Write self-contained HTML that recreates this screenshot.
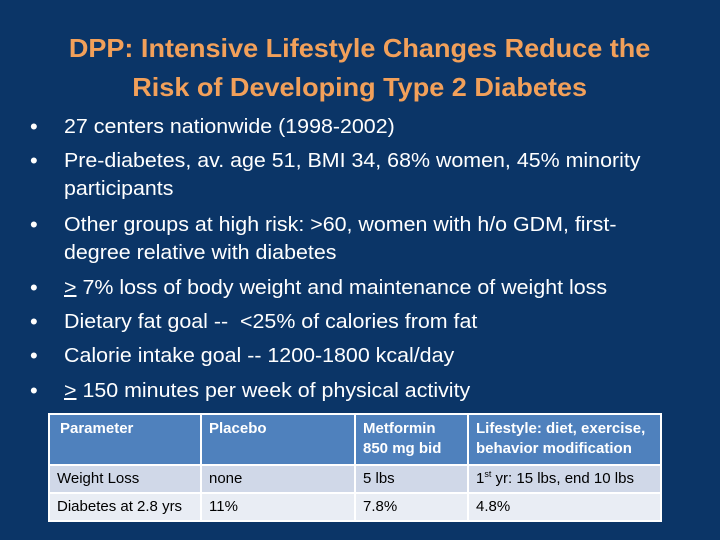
<!DOCTYPE html>
<html><head><meta charset="utf-8"><style>
body{margin:0;width:720px;height:540px;background:#0b3567;overflow:hidden;position:relative;font-family:"Liberation Sans",sans-serif}
.t{position:absolute;left:0;width:720px;text-align:center;color:#f2a05a;font-weight:bold;font-size:26px;line-height:32px}
.t span{display:inline-block;transform:scaleX(1.04)}
.l{position:absolute;left:64px;color:#fff;font-size:20px;line-height:24px;height:24px;white-space:nowrap;transform:scaleX(1.07);transform-origin:left center}
.b{position:absolute;left:30px;color:#fff;font-size:22px;line-height:24px}
u{text-decoration:underline}
table{position:absolute;left:48px;top:413px;border-collapse:collapse;font-size:15px;color:#000;table-layout:fixed;width:612px}
td{border:2px solid #fff;padding:0 7px;vertical-align:middle;line-height:20px;white-space:nowrap;overflow:hidden}
tr.h td{background:#4f81bd;color:#fff;font-weight:bold;height:51px;vertical-align:top;padding-top:4px;box-sizing:border-box}
tr.r1 td{background:#d0d8e8;height:28px;box-sizing:border-box}
tr.r2 td{background:#e9edf4;height:28px;box-sizing:border-box}
sup{font-size:9px;line-height:0}
</style></head><body>
<div class="t" style="top:32px"><span>DPP: Intensive Lifestyle Changes Reduce the</span></div>
<div class="t" style="top:71px"><span>Risk of Developing Type 2 Diabetes</span></div>

<div class="b" style="top:115px">•</div><div class="l" style="top:115px">27 centers nationwide (1998-2002)</div>
<div class="b" style="top:149px">•</div><div class="l" style="top:149px">Pre-diabetes, av. age 51, BMI 34, 68% women, 45% minority</div>
<div class="l" style="top:177px">participants</div>
<div class="b" style="top:213px">•</div><div class="l" style="top:213px">Other groups at high risk: &gt;60, women with h/o GDM, first-</div>
<div class="l" style="top:241px">degree relative with diabetes</div>
<div class="b" style="top:276px">•</div><div class="l" style="top:276px"><u>&gt;</u> 7% loss of body weight and maintenance of weight loss</div>
<div class="b" style="top:310px">•</div><div class="l" style="top:310px">Dietary fat goal --&nbsp; &lt;25% of calories from fat</div>
<div class="b" style="top:344px">•</div><div class="l" style="top:344px">Calorie intake goal -- 1200-1800 kcal/day</div>
<div class="b" style="top:379px">•</div><div class="l" style="top:379px"><u>&gt;</u> 150 minutes per week of physical activity</div>

<table>
<colgroup><col style="width:152px"><col style="width:154px"><col style="width:113px"><col style="width:193px"></colgroup>
<tr class="h"><td style="padding-left:10px">Parameter</td><td>Placebo</td><td>Metformin<br>850 mg bid</td><td>Lifestyle: diet, exercise,<br>behavior modification</td></tr>
<tr class="r1"><td>Weight Loss</td><td>none</td><td>5 lbs</td><td>1<sup>st</sup> yr: 15 lbs, end 10 lbs</td></tr>
<tr class="r2"><td>Diabetes at 2.8 yrs</td><td>11%</td><td>7.8%</td><td>4.8%</td></tr>
</table>
</body></html>
